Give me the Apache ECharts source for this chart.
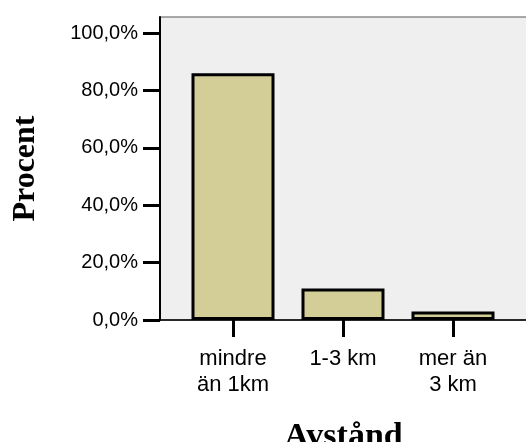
<!DOCTYPE html>
<html>
<head>
<meta charset="utf-8">
<script src="https://cdn.jsdelivr.net/npm/echarts@6/dist/echarts.min.js"></script>
<style>
  html, body { margin: 0; padding: 0; background: #fff; }
  #chart { width: 526px; height: 442px; }
</style>
</head>
<body>
<div id="chart"></div>
<script>
const categories = ['mindre\nän 1km', '1-3 km', 'mer än\n3 km']
const percentValues = [86.0, 11.0, 3.0]
const yTicks = [0, 20, 40, 60, 80, 100]

const chart = echarts.init(document.getElementById('chart'))

// category positions on a value axis so the plot can have uneven margins
const positions = categories.map((c, i) => i)
const barData = percentValues.map((v, i) => [positions[i], v])

chart.setOption({
  animation: false,
  grid: {
    left: 160,
    top: 17,
    right: -1,
    bottom: 122,
    outerBoundsMode: 'none',
    show: true,
    backgroundColor: '#efefef',
    borderWidth: 1,
    borderColor: '#555'
  },
  xAxis: {
    type: 'value',
    min: -0.6636,
    max: 2.6727,
    splitLine: { show: false },
    axisLine: { onZero: false, lineStyle: { color: '#000', width: 1.5 } },
    axisTick: {
      customValues: positions,
      length: 17,
      lineStyle: { color: '#000', width: 3 }
    },
    axisLabel: {
      customValues: positions,
      formatter: v => categories[Math.round(v)],
      margin: 26,
      lineHeight: 26,
      fontFamily: 'Liberation Sans',
      fontSize: 22,
      color: '#000'
    },
    name: 'Avstånd',
    nameLocation: 'middle',
    nameGap: 100,
    nameTextStyle: {
      fontFamily: 'Liberation Serif',
      fontWeight: 'bold',
      fontSize: 34,
      color: '#000',
      verticalAlign: 'top'
    }
  },
  yAxis: {
    type: 'value',
    min: 0,
    max: 105.6,
    interval: 20,
    splitLine: { show: false },
    axisLine: { show: true, onZero: false, lineStyle: { color: '#000', width: 2 } },
    axisTick: {
      customValues: yTicks,
      length: 17,
      lineStyle: { color: '#000', width: 3 }
    },
    axisLabel: {
      customValues: yTicks,
      formatter: v => v.toFixed(1).replace('.', ',') + '%',
      margin: 22,
      fontFamily: 'Liberation Sans',
      fontSize: 20,
      color: '#000'
    },
    name: 'Procent',
    nameLocation: 'middle',
    nameRotate: 90,
    nameGap: 118,
    nameTextStyle: {
      fontFamily: 'Liberation Serif',
      fontWeight: 'bold',
      fontSize: 32,
      color: '#000'
    }
  },
  series: [
    {
      type: 'bar',
      data: barData,
      barWidth: 83,
      itemStyle: {
        color: '#d3ce98',
        borderColor: '#000',
        borderWidth: 3
      }
    }
  ]
})
</script>
</body>
</html>
